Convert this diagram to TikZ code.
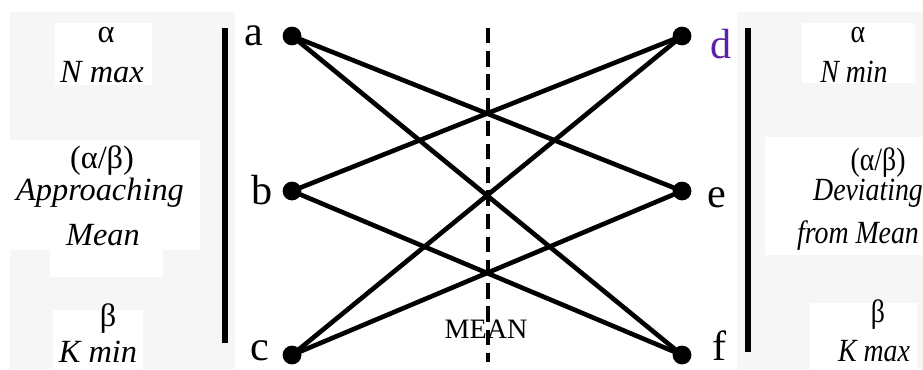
\documentclass[tikz,border=0pt]{standalone}
\usepackage{fontspec}
\setmainfont{Liberation Serif}
\newfontfamily\narrowserif[FakeStretch=0.86]{Liberation Serif}
\usepackage{xcolor}
\definecolor{dkpurple}{rgb}{0.36,0.13,0.66}
\definecolor{panelgray}{rgb}{0.965,0.965,0.965}

\begin{document}
\begin{tikzpicture}[
    dot/.style={circle, fill=black, inner sep=0pt, minimum size=0.47cm},
    letter/.style={anchor=base, font=\fontsize{30}{32}\selectfont},
    label/.style={anchor=base, font=\fontsize{23}{26}\selectfont},
    rlabel/.style={anchor=base, font=\fontsize{23}{26}\narrowserif},
    link/.style={line width=3.3pt},
    bar/.style={line width=4.3pt}
  ]
  \useasboundingbox (0,0) rectangle (23.075,9.225);

  % Light panels and white text boxes
  \fill[panelgray] (0.25,0) rectangle (5.875,8.925);
  \fill[panelgray] (18.425,0) rectangle (23.075,8.925);
  \fill[white] (1.375,7.1) rectangle (3.8,8.65);
  \fill[white] (0.25,2.975) rectangle (5.0,5.725);
  \fill[white] (1.25,2.3) rectangle (4.075,2.975);
  \fill[white] (1.325,0) rectangle (3.575,1.475);
  \fill[white] (20.05,7.15) rectangle (22.875,8.65);
  \fill[white] (19.125,2.85) rectangle (23.075,5.8);
  \fill[white] (20.25,0) rectangle (22.925,1.65);

  % Vertical bars
  \draw[bar] (5.625,8.525) -- (5.625,0.65);
  \draw[bar] (18.7,8.525) -- (18.7,0.425);

  % Mean line
  \coordinate (mtop) at (12.19,8.525);
  \coordinate (mbot) at (12.19,0.175);
  \draw[line width=3pt, dash pattern=on 11pt off 5.5pt] (mtop) -- (mbot);
  \node[label, font=\fontsize{20}{24}\selectfont] (mean) at (12.15,0.775) {MEAN};

  % Points
  \node[dot] (a) at (7.3,8.325) {};
  \node[dot] (b) at (7.3,4.45) {};
  \node[dot] (c) at (7.3,0.35) {};
  \node[dot] (d) at (17.05,8.325) {};
  \node[dot] (e) at (17.05,4.45) {};
  \node[dot] (f) at (17.05,0.35) {};

  % Crossing links
  \foreach \from/\to in {a/e, a/f, b/d, b/f, c/d, c/e}
    \draw[link] (\from.center) -- (\to.center);

  % Point letters
  \node[letter] (la) at (6.35,8.1) {a};
  \node[letter] (lb) at (6.55,4.125) {b};
  \node[letter] (lc) at (6.5,0.22) {c};
  \node[letter, text=dkpurple] (ld) at (18.025,7.775) {d};
  \node[letter] (le) at (17.925,4.05) {e};
  \node[letter] (lf) at (18.0,0.22) {f};

  % Left side text
  \node[label] (lalpha) at (2.65,8.175) {α};
  \node[label] (nmax) at (2.55,7.175) {\textit{N max}};
  \node[label] (lratio) at (2.55,5.025) {(α/β)};
  \node[label] (approach) at (2.5,4.225) {\textit{Approaching}};
  \node[label] (lmean) at (2.575,3.1) {\textit{Mean}};
  \node[label] (lbeta) at (2.7,1.075) {β};
  \node[label] (kmin) at (2.45,0.17) {\textit{K min}};

  % Right side text
  \node[rlabel] (ralpha) at (21.45,8.175) {α};
  \node[rlabel] (nmin) at (21.35,7.175) {\textit{N min}};
  \node[rlabel] (rratio) at (21.95,4.975) {(α/β)};
  \node[rlabel] (deviate) at (21.7,4.225) {\textit{Deviating}};
  \node[rlabel] (fmean) at (21.45,3.15) {\textit{from Mean}};
  \node[rlabel] (rbeta) at (21.95,1.175) {β};
  \node[rlabel] (kmax) at (21.85,0.2) {\textit{K max}};

\end{tikzpicture}
\end{document}
